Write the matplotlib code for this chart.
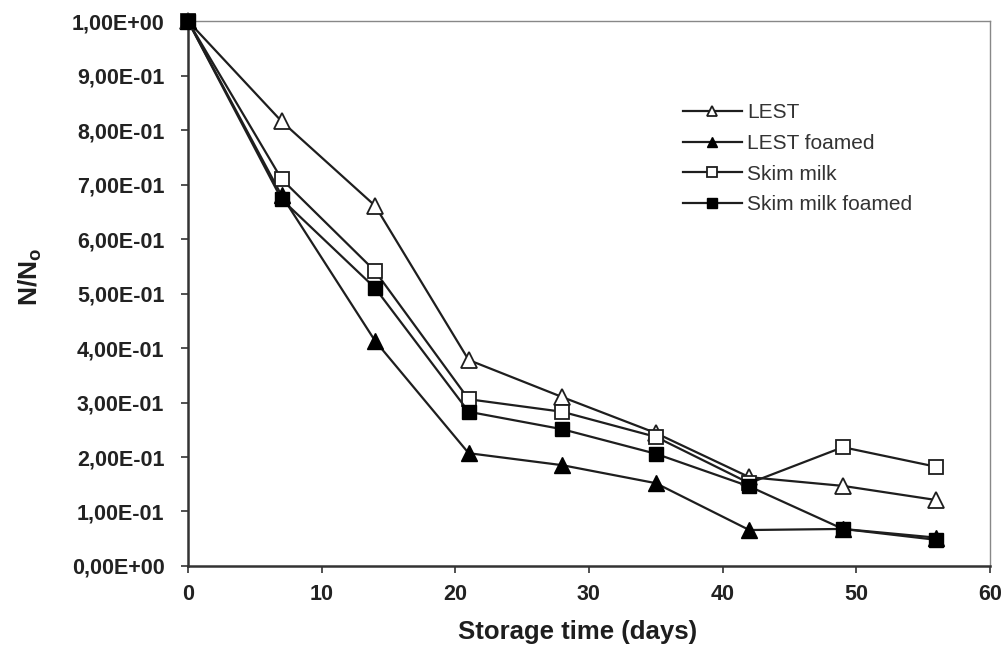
import matplotlib
matplotlib.use('Agg')
import matplotlib.pyplot as plt
from matplotlib.ticker import FixedLocator, FixedFormatter

plt.rcParams['font.family'] = ['Liberation Sans', 'DejaVu Sans']
plt.rcParams['mathtext.fontset'] = 'custom'
plt.rcParams['mathtext.rm'] = 'Liberation Sans'
plt.rcParams['mathtext.bf'] = 'Liberation Sans:bold'

# Data
days = [0, 7, 14, 21, 28, 35, 42, 49, 56]
lest = [1.0, 0.816, 0.661, 0.378, 0.310, 0.244, 0.163, 0.147, 0.121]
lest_foamed = [1.0, 0.680, 0.413, 0.207, 0.185, 0.152, 0.066, 0.068, 0.052]
skim = [1.0, 0.710, 0.541, 0.306, 0.283, 0.237, 0.152, 0.218, 0.182]
skim_foamed = [1.0, 0.673, 0.510, 0.283, 0.251, 0.206, 0.146, 0.068, 0.048]

y_ticks = [0.0, 0.1, 0.2, 0.3, 0.4, 0.5, 0.6, 0.7, 0.8, 0.9, 1.0]
y_tick_labels = ['0,00E+00', '1,00E-01', '2,00E-01', '3,00E-01', '4,00E-01',
                 '5,00E-01', '6,00E-01', '7,00E-01', '8,00E-01', '9,00E-01',
                 '1,00E+00']
x_ticks = [0, 10, 20, 30, 40, 50, 60]

fig = plt.figure(figsize=(10.07, 6.47), dpi=100)
ax = fig.add_axes([0.1867, 0.1252, 0.7963, 0.8423])

line_col = '#1e1e1e'
ax.plot(days, lest, color=line_col, lw=1.6, marker='^', ms=11,
        mfc='white', mec=line_col, mew=1.3, label='LEST', zorder=3, clip_on=False)
ax.plot(days, lest_foamed, color=line_col, lw=1.6, marker='^', ms=11,
        mfc='black', mec='black', label='LEST foamed', zorder=3, clip_on=False)
ax.plot(days, skim, color=line_col, lw=1.6, marker='s', ms=10.5,
        mfc='white', mec=line_col, mew=1.3, label='Skim milk', zorder=3, clip_on=False)
ax.plot(days, skim_foamed, color=line_col, lw=1.6, marker='s', ms=10.5,
        mfc='black', mec='black', label='Skim milk foamed', zorder=3, clip_on=False)

ax.set_xlim(0, 60)
ax.set_ylim(0, 1.0)
ax.xaxis.set_major_locator(FixedLocator(x_ticks))
ax.yaxis.set_major_locator(FixedLocator(y_ticks))
ax.yaxis.set_major_formatter(FixedFormatter(y_tick_labels))

for lab in ax.get_xticklabels() + ax.get_yticklabels():
    lab.set_fontweight('bold')
    lab.set_fontsize(15.5)
    lab.set_color('#222222')

ax.tick_params(direction='out', length=5, width=1.2, color='#333333')
ax.tick_params(axis='y', pad=12)
ax.tick_params(axis='x', pad=8)
ax.spines['left'].set_linewidth(1.8)
ax.spines['bottom'].set_linewidth(1.8)
ax.spines['left'].set_color('#333333')
ax.spines['bottom'].set_color('#333333')
ax.spines['top'].set_linewidth(1.0)
ax.spines['right'].set_linewidth(1.0)
ax.spines['top'].set_color('#888888')
ax.spines['right'].set_color('#888888')

ax.set_xlabel('Storage time (days)', fontsize=18.5, fontweight='bold',
              color='#1e1e1e', va='center')
ax.xaxis.set_label_coords(0.486, -0.121)
ax.set_ylabel('$\\mathbf{N/N_o}$', fontsize=19, color='#1e1e1e', va='center')
ax.yaxis.set_label_coords(-0.196, 0.53)

leg = ax.legend(loc='upper left', bbox_to_anchor=(0.617, 0.849), frameon=False,
                fontsize=15, numpoints=1, handlelength=2.85, handletextpad=0.25,
                labelspacing=0.56, markerscale=0.7, borderpad=0, borderaxespad=0)
for t in leg.get_texts():
    t.set_color('#333333')

fig.savefig('out.png', dpi=100)
